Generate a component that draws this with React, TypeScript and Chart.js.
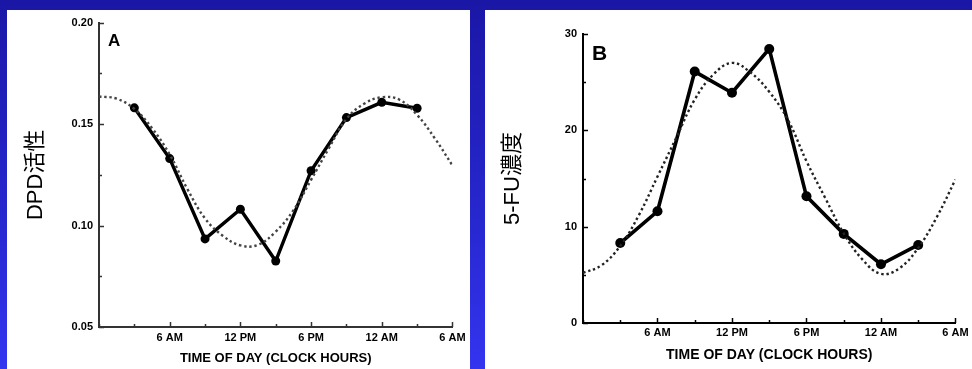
import React, { useEffect, useRef } from 'react';
import { Chart, registerables } from 'chart.js';

Chart.register(...registerables);

// ---- Data ----
const sampleHours = [3, 6, 9, 12, 15, 18, 21, 24, 27];
const dpdActivity = [0.158, 0.133, 0.0934, 0.108, 0.0825, 0.127, 0.1532, 0.1607, 0.1578];
const fuConcentration = [8.3, 11.6, 26.1, 23.9, 28.45, 13.15, 9.25, 6.1, 8.1];

const fitHours = [0, 1.5, 3, 4.5, 6, 7.5, 9, 10.5, 12, 13.5, 15, 16.5, 18, 19.5, 21, 22.5, 24, 25.5, 27, 28.5, 30];
const dpdFit = [0.1636, 0.1625, 0.1575, 0.148, 0.135, 0.118, 0.1035, 0.095, 0.0902, 0.0905, 0.097, 0.1075, 0.1225, 0.138, 0.1525, 0.16, 0.1632, 0.162, 0.1545, 0.143, 0.1296];
const fuFit = [5.2, 6.0, 8.0, 11.2, 15.2, 19.2, 23.2, 25.8, 27.0, 26.0, 24.0, 21.1, 16.8, 13.0, 9.3, 6.6, 5.1, 5.7, 7.8, 11.0, 14.9];

const timeLabelHours = [6, 12, 18, 24, 30];
const timeLabels = ['6 AM', '12 PM', '6 PM', '12 AM', '6 AM'];

const dpdLabelValues = [0.05, 0.1, 0.15, 0.2];
const dpdLabels = ['0.05', '0.10', '0.15', '0.20'];
const fuLabelValues = [0, 10, 20, 30];
const fuLabels = ['0', '10', '20', '30'];

const FONT = "'Liberation Sans', Arial, 'Noto Sans CJK JP', sans-serif";

const toXY = (xs: number[], ys: number[]) => xs.map((x, i) => ({ x, y: ys[i] }));

const findLabel = (v: number, vals: number[], labels: string[]) => {
  const i = vals.findIndex((w) => Math.abs(w - v) < 1e-6);
  return i >= 0 ? labels[i] : '';
};

const decorPlugin = {
  id: 'decor',
  afterDatasetsDraw(chart: any, _args: any, opts: any) {
    const ctx = chart.ctx;
    const { x, y } = chart.scales;
    const area = chart.chartArea;
    ctx.save();
    ctx.strokeStyle = opts.axisColor;
    ctx.lineWidth = 1.5;
    y.ticks.forEach((t: any) => {
      const py = Math.round(y.getPixelForValue(t.value)) + 0.5;
      const len = t.label ? 5 : 3;
      ctx.beginPath();
      ctx.moveTo(area.left, py);
      ctx.lineTo(area.left + len, py);
      ctx.stroke();
    });
    x.ticks.forEach((t: any) => {
      const px = Math.round(x.getPixelForValue(t.value)) + 0.5;
      const len = t.label ? 5 : 3;
      ctx.beginPath();
      ctx.moveTo(px, area.bottom);
      ctx.lineTo(px, area.bottom - len);
      ctx.stroke();
    });
    ctx.fillStyle = '#000';
    ctx.font = `bold ${opts.letterSize}px ${FONT}`;
    ctx.textAlign = 'left';
    ctx.textBaseline = 'top';
    ctx.fillText(opts.letter, area.left + 9, area.top + 10);
    ctx.restore();
  },
};

type Cfg = {
  points: number[];
  fit: number[];
  yMin: number;
  yMax: number;
  yStep: number;
  yLabelVals: number[];
  yLabels: string[];
  yTitle: string;
  yTitlePad: number;
  yWidth: number;
  xHeight: number;
  xLabelPad: number;
  xTitleSize: number;
  xTitlePad: number;
  padding: { left: number; right: number; top: number; bottom: number };
  letter: string;
  letterSize: number;
  axisColor: string;
  fitColor: string;
  lineWidth: number;
  pointRadius: number;
};

function makeConfig(c: Cfg): any {
  return {
    type: 'line',
    data: {
      datasets: [
        {
          data: toXY(fitHours, c.fit),
          borderColor: c.fitColor,
          borderWidth: 2.4,
          borderDash: [2.4, 2.8],
          pointRadius: 0,
          tension: 0.4,
          fill: false,
        },
        {
          data: toXY(sampleHours, c.points),
          borderColor: '#000',
          backgroundColor: '#000',
          borderWidth: c.lineWidth,
          pointRadius: c.pointRadius,
          pointBackgroundColor: '#000',
          pointBorderWidth: 0,
          tension: 0,
          fill: false,
        },
      ],
    },
    options: {
      animation: false,
      responsive: false,
      events: [],
      layout: { padding: c.padding },
      plugins: {
        legend: { display: false },
        tooltip: { enabled: false },
        decor: { letter: c.letter, letterSize: c.letterSize, axisColor: c.axisColor },
      },
      scales: {
        x: {
          type: 'linear',
          min: 0,
          max: 30,
          afterFit: (s: any) => {
            s.height = c.xHeight;
          },
          ticks: {
            stepSize: 3,
            autoSkip: false,
            maxRotation: 0,
            padding: c.xLabelPad,
            color: '#000',
            font: { family: FONT, size: 11, weight: 'bold' },
            callback: (v: number) => findLabel(v, timeLabelHours, timeLabels),
          },
          grid: { display: false, drawTicks: false },
          border: { display: true, color: c.axisColor, width: 2 },
          title: {
            display: true,
            text: 'TIME OF DAY (CLOCK HOURS)',
            color: '#000',
            font: { family: FONT, size: c.xTitleSize, weight: 'bold' },
            padding: { top: 0, bottom: c.xTitlePad },
          },
        },
        y: {
          type: 'linear',
          min: c.yMin,
          max: c.yMax,
          afterFit: (s: any) => {
            s.width = c.yWidth;
          },
          ticks: {
            stepSize: c.yStep,
            autoSkip: false,
            padding: 6,
            color: '#000',
            font: { family: FONT, size: 11, weight: 'bold' },
            callback: (v: number) => findLabel(v, c.yLabelVals, c.yLabels),
          },
          grid: { display: false, drawTicks: false },
          border: { display: true, color: c.axisColor, width: 2 },
          title: {
            display: true,
            text: c.yTitle,
            color: '#000',
            font: { family: FONT, size: 22, weight: 'normal' },
            padding: { top: c.yTitlePad, bottom: 0 },
          },
        },
      },
    },
    plugins: [decorPlugin],
  };
}

function Panel({ cfg, left, top, width, height }: { cfg: Cfg; left: number; top: number; width: number; height: number }) {
  const ref = useRef<HTMLCanvasElement>(null);
  useEffect(() => {
    const chart = new Chart(ref.current as HTMLCanvasElement, makeConfig(cfg));
    return () => chart.destroy();
  }, []);
  return (
    <div style={{ position: 'absolute', left, top, width, height, background: '#fff' }}>
      <canvas ref={ref} width={width} height={height} style={{ display: 'block', width, height }} />
    </div>
  );
}

const cfgA: Cfg = {
  points: dpdActivity,
  fit: dpdFit,
  yMin: 0.05,
  yMax: 0.2,
  yStep: 0.025,
  yLabelVals: dpdLabelValues,
  yLabels: dpdLabels,
  yTitle: 'DPD活性',
  yTitlePad: 16,
  yWidth: 92,
  xHeight: 42,
  xLabelPad: 4.4,
  xTitleSize: 13,
  xTitlePad: 3.2,
  padding: { left: 0, right: 16, top: 9, bottom: 0 },
  letter: 'A',
  letterSize: 17,
  axisColor: '#333',
  fitColor: '#444',
  lineWidth: 3.4,
  pointRadius: 4.5,
};

const cfgB: Cfg = {
  points: fuConcentration,
  fit: fuFit,
  yMin: 0,
  yMax: 30,
  yStep: 5,
  yLabelVals: fuLabelValues,
  yLabels: fuLabels,
  yTitle: '5-FU濃度',
  yTitlePad: 14.8,
  yWidth: 98,
  xHeight: 46,
  xLabelPad: 3.4,
  xTitleSize: 14,
  xTitlePad: 5.6,
  padding: { left: 0, right: 11, top: 24, bottom: 0 },
  letter: 'B',
  letterSize: 21,
  axisColor: '#000',
  fitColor: '#222',
  lineWidth: 3.6,
  pointRadius: 5,
};

export default function App() {
  return (
    <div
      style={{
        position: 'fixed',
        left: 0,
        top: 0,
        width: 972,
        height: 369,
        overflow: 'hidden',
        background: 'linear-gradient(to bottom, #1a17a6 0%, #2626cc 55%, #3434f0 100%)',
      }}
    >
      <Panel cfg={cfgA} left={7} top={10} width={463} height={359} />
      <Panel cfg={cfgB} left={485} top={10} width={487} height={359} />
    </div>
  );
}
